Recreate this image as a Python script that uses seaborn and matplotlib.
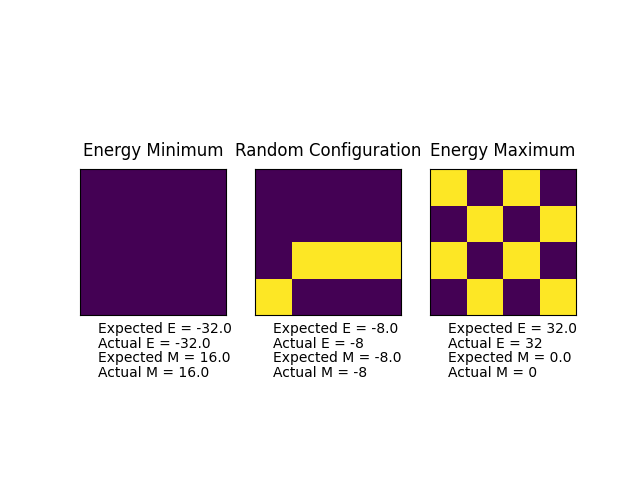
import numpy as np
import matplotlib
matplotlib.use("Agg")
import matplotlib.pyplot as plt
import seaborn as sns

# ---- datos: redes de espines 4x4 ----
titulos = ["Energy Minimum", "Random Configuration", "Energy Maximum"]

red_minimo = [[1, 1, 1, 1],
              [1, 1, 1, 1],
              [1, 1, 1, 1],
              [1, 1, 1, 1]]

red_aleatoria = [[-1, -1, -1, -1],
                 [-1, -1, -1, -1],
                 [-1, 1, 1, 1],
                 [1, -1, -1, -1]]

red_maximo = [[1, -1, 1, -1],
              [-1, 1, -1, 1],
              [1, -1, 1, -1],
              [-1, 1, -1, 1]]

energia_esperada = ["-32.0", "-8.0", "32.0"]
energia_real = ["-32.0", "-8", "32"]
magnet_esperada = ["16.0", "-8.0", "0.0"]
magnet_real = ["16.0", "-8", "0"]

redes = [red_minimo, red_aleatoria, red_maximo]

fig, axes = plt.subplots(1, 3, figsize=(6.4, 4.8), dpi=100)

for i, ax in enumerate(axes):
    sns.heatmap(np.array(redes[i]), cmap="viridis", cbar=False, square=True,
                xticklabels=False, yticklabels=False, linewidths=0, ax=ax)
    # recuperar el marco negro
    for sp in ax.spines.values():
        sp.set_visible(True)
        sp.set_color("black")
        sp.set_linewidth(0.8)
    ax.set_xticks([])
    ax.set_yticks([])
    ax.set_title(titulos[i], fontsize=12, pad=10)
    texto = (f"Expected E = {energia_esperada[i]}\n"
             f"Actual E = {energia_real[i]}\n"
             f"Expected M = {magnet_esperada[i]}\n"
             f"Actual M = {magnet_real[i]}")
    ax.text(0.5, 5.69, texto, fontsize=10, linespacing=1.05)

plt.savefig("out.png", dpi=100)
